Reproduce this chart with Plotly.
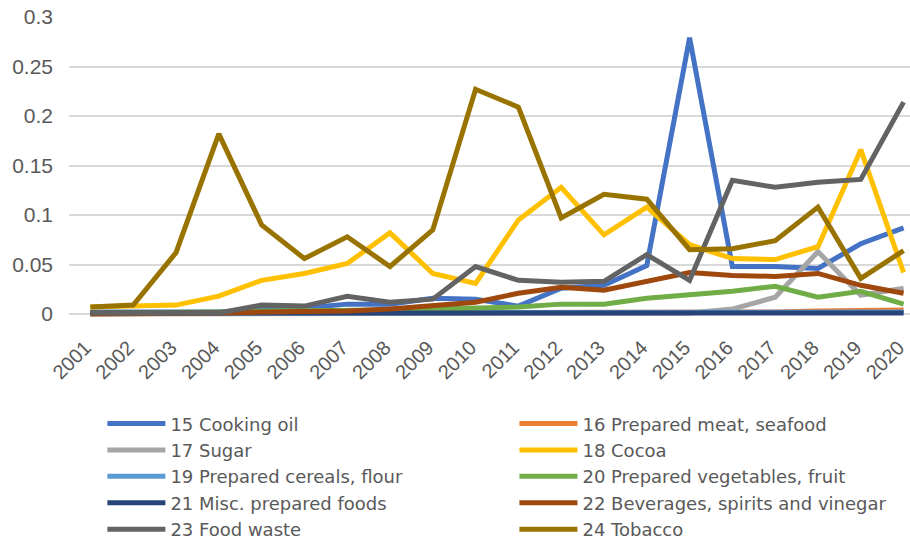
import plotly.graph_objects as go

years = list(range(2001, 2021))

names = [
    "15 Cooking oil", "16 Prepared meat, seafood", "17 Sugar", "18 Cocoa",
    "19 Prepared cereals, flour", "20 Prepared vegetables, fruit",
    "21 Misc. prepared foods", "22 Beverages, spirits and vinegar",
    "23 Food waste", "24 Tobacco",
]
colors = ["#4472C4", "#ED7D31", "#A5A5A5", "#FFC000", "#5B9BD5",
          "#70AD47", "#264478", "#9E480E", "#636363", "#997300"]

cooking_oil = [0.002, 0.002, 0.002, 0.002, 0.005, 0.006, 0.010, 0.010, 0.016, 0.015,
               0.008, 0.026, 0.029, 0.049, 0.279, 0.048, 0.048, 0.046, 0.071, 0.087]
prepared_meat = [0.001, 0.001, 0.001, 0.001, 0.001, 0.001, 0.001, 0.001, 0.001, 0.001,
                 0.001, 0.001, 0.001, 0.001, 0.001, 0.001, 0.002, 0.003, 0.003, 0.004]
sugar = [0.000, 0.000, 0.000, 0.000, 0.000, 0.000, 0.000, 0.000, 0.000, 0.000,
         0.000, 0.000, 0.000, 0.000, 0.001, 0.005, 0.017, 0.063, 0.019, 0.026]
cocoa = [0.007, 0.008, 0.009, 0.018, 0.034, 0.041, 0.051, 0.082, 0.041, 0.031,
         0.095, 0.128, 0.080, 0.108, 0.070, 0.056, 0.055, 0.068, 0.166, 0.042]
cereals = [0.001, 0.001, 0.001, 0.001, 0.001, 0.002, 0.002, 0.002, 0.002, 0.002,
           0.002, 0.002, 0.002, 0.002, 0.002, 0.002, 0.002, 0.002, 0.002, 0.002]
vegetables = [0.001, 0.001, 0.002, 0.002, 0.003, 0.003, 0.004, 0.004, 0.005, 0.006,
              0.007, 0.010, 0.010, 0.016, 0.019, 0.023, 0.028, 0.017, 0.023, 0.010]
misc_foods = [0.001] * 20
beverages = [0.000, 0.000, 0.001, 0.001, 0.002, 0.002, 0.003, 0.005, 0.008, 0.012,
             0.021, 0.027, 0.024, 0.033, 0.042, 0.039, 0.038, 0.041, 0.029, 0.021]
food_waste = [0.001, 0.001, 0.001, 0.001, 0.009, 0.008, 0.018, 0.012, 0.015, 0.048,
              0.034, 0.032, 0.033, 0.060, 0.034, 0.135, 0.128, 0.133, 0.136, 0.214]
tobacco = [0.007, 0.009, 0.062, 0.182, 0.090, 0.056, 0.078, 0.048, 0.085, 0.227,
           0.209, 0.097, 0.121, 0.116, 0.065, 0.066, 0.074, 0.108, 0.036, 0.064]

series = [cooking_oil, prepared_meat, sugar, cocoa, cereals, vegetables,
          misc_foods, beverages, food_waste, tobacco]

FONT = "Liberation Sans, Arial, sans-serif"
LEG_FONT = "DejaVu Sans, Liberation Sans, sans-serif"
TXT = "#595959"

fig = go.Figure()
for i, (name, col, vals) in enumerate(zip(names, colors, series)):
    fig.add_trace(go.Scatter(x=years, y=vals, name=name, mode="lines",
                             line=dict(color=col, width=5),
                             legend="legend" if i % 2 == 0 else "legend2"))

leg_common = dict(orientation="v", xref="container", yref="container",
                  xanchor="left", yanchor="top", itemwidth=58,
                  font=dict(family=LEG_FONT, size=18, color=TXT),
                  bgcolor="rgba(0,0,0,0)", tracegroupgap=0, itemclick=False)

fig.update_layout(
    width=910, height=539,
    margin=dict(l=69, r=0, t=17, b=222, autoexpand=False),
    paper_bgcolor="white", plot_bgcolor="white",
    font=dict(family=FONT, color=TXT, size=20),
    showlegend=True,
    legend=dict(x=0.1125, y=0.248, **leg_common),
    legend2=dict(x=0.5653, y=0.248, **leg_common),
    xaxis=dict(range=[2000.5, 2020.15], tickvals=years, tickangle=-45,
               showgrid=False, zeroline=False, showline=False, ticks="",
               tickfont=dict(family=FONT, size=20, color=TXT),
               ticklabelstandoff=14, ticklabelshift=-5,
               ticklabeloverflow="allow"),
    yaxis=dict(range=[-0.003, 0.3], tickvals=[0, 0.05, 0.1, 0.15, 0.2, 0.25, 0.3],
               ticktext=["0", "0.05", "0.1", "0.15", "0.2", "0.25", "0.3"],
               showgrid=True, gridcolor="#D9D9D9", gridwidth=1.5,
               zeroline=False, showline=False, ticks="",
               tickfont=dict(family=FONT, size=21, color=TXT),
               ticklabelstandoff=15),
)

fig.write_html("out.html", config={"displayModeBar": False},
               post_script="document.body.style.margin='0px';")
